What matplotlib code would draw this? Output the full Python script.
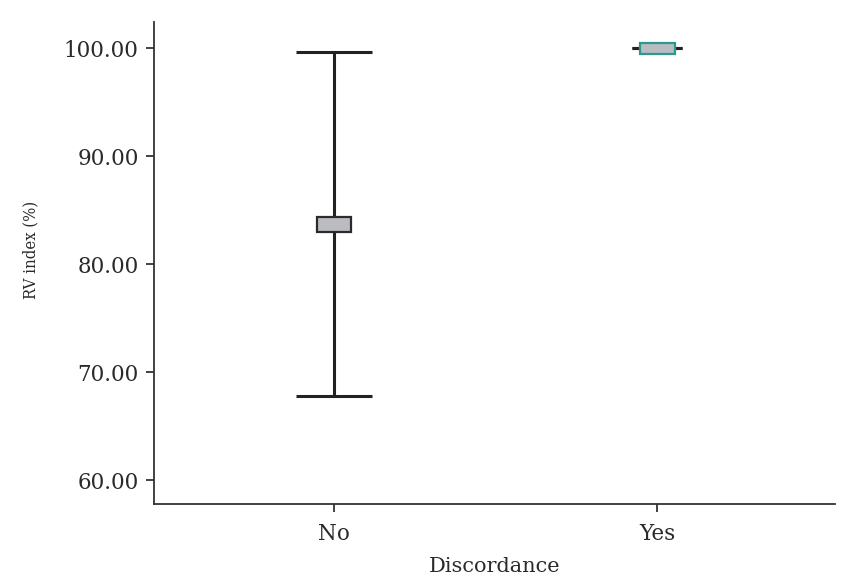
import numpy as np
import matplotlib
matplotlib.use("Agg")
from matplotlib import pyplot as plt

# values
categories = ["No", "Yes"]
whisker_low = [67.8, 100.0]
whisker_high = [99.6, 100.0]
box_low = [82.95, 99.45]
box_high = [84.35, 100.45]

plt.rcParams["font.family"] = ["DejaVu Serif", "Liberation Serif"]

fig = plt.figure(figsize=(8.55, 5.85), dpi=100)
ax = fig.add_axes([0.180, 0.1385, 0.797, 0.8235])

x = np.arange(len(categories))
cap_half = [0.118, 0.078]
box_edge = ["#2b2b2b", "#2a9a8e"]
line_col = "#222222"

# whiskers and caps
ax.vlines(x, whisker_low, whisker_high, color=line_col, lw=2.2, zorder=2)
for xi, lo, hi, ch in zip(x, whisker_low, whisker_high, cap_half):
    ax.hlines([lo, hi], xi - ch, xi + ch, color=line_col, lw=2.2, zorder=2)

# boxes
heights = np.array(box_high) - np.array(box_low)
ax.bar(x, heights, bottom=box_low, width=0.108, color="#babcc1",
       edgecolor=box_edge, linewidth=1.6, zorder=3)

ax.set_xlim(-0.557, 0.551 + 1)
ax.set_ylim(57.8, 102.4)
ax.set_xticks(x)
ax.set_xticklabels(categories)
ax.set_yticks([60, 70, 80, 90, 100])
ax.set_yticklabels(["%.2f" % v for v in [60, 70, 80, 90, 100]])

for s in ["top", "right"]:
    ax.spines[s].set_visible(False)
for s in ["left", "bottom"]:
    ax.spines[s].set_color("#333333")
    ax.spines[s].set_linewidth(1.3)
ax.tick_params(axis="both", length=6, width=1.3, color="#333333",
               labelsize=15.5, labelcolor="#2a2a2a", pad=5)
ax.tick_params(axis="x", pad=8)

ax.set_ylabel("RV index (%)", fontsize=12, color="#2a2a2a",
              fontstretch="condensed")
ax.set_xlabel("Discordance", fontsize=15, color="#2a2a2a")
ax.yaxis.set_label_coords(-0.168, 0.527)
ax.xaxis.set_label_coords(0.5, -0.110)

plt.savefig("out.png", dpi=100)
